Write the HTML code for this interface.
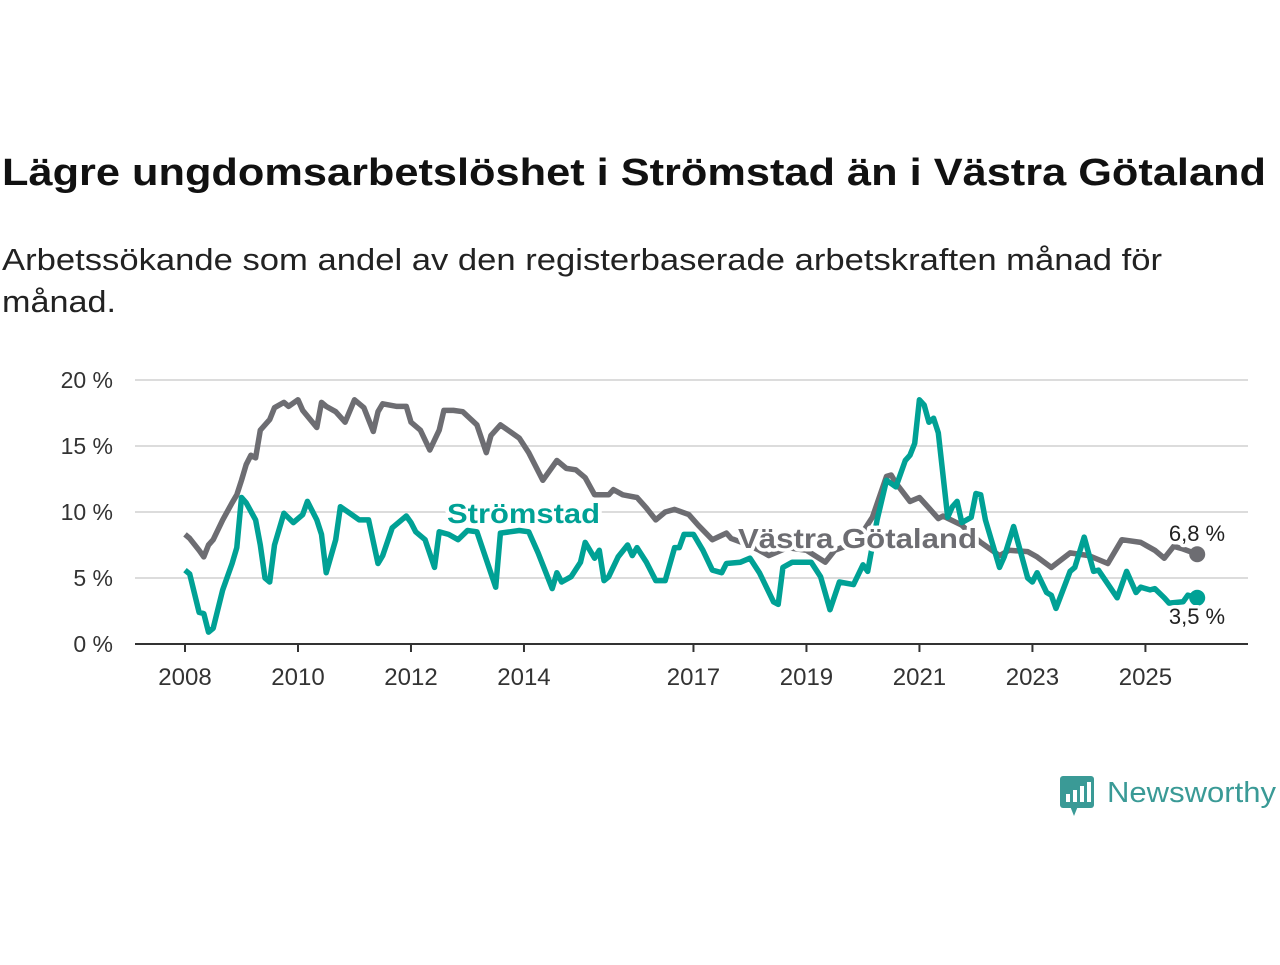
<!DOCTYPE html>
<html><head><meta charset="utf-8"><style>
body{margin:0;background:#fff;width:1280px;height:960px;overflow:hidden;font-family:"Liberation Sans","DejaVu Sans",sans-serif}
</style></head><body>
<svg width="1280" height="960" viewBox="0 0 1280 960">
<text x="2" y="185" font-size="38" font-weight="bold" fill="#111" textLength="1264" lengthAdjust="spacingAndGlyphs">Lägre ungdomsarbetslöshet i Strömstad än i Västra Götaland</text>
<text x="2" y="270" font-size="31" fill="#222"><tspan x="2" y="270" textLength="1160" lengthAdjust="spacingAndGlyphs">Arbetssökande som andel av den registerbaserade arbetskraften månad för</tspan><tspan x="2" y="312" textLength="114" lengthAdjust="spacingAndGlyphs">månad.</tspan></text>
<g id="grid"></g><g id="lines"></g><g id="labels"></g>
<g>
<rect x="1060" y="776" width="34" height="32" rx="3" fill="#3a9a96"/>
<polygon points="1070,806 1078,806 1074,816" fill="#3a9a96"/>
<rect x="1066" y="794" width="4" height="8" fill="#fff"/><rect x="1073" y="790" width="4" height="12" fill="#fff"/><rect x="1080" y="786" width="4" height="16" fill="#fff"/><rect x="1087" y="782" width="4" height="20" fill="#fff"/>
<text x="1107" y="802" font-size="29" fill="#3a9a96" textLength="169" lengthAdjust="spacingAndGlyphs">Newsworthy</text>
</g>
</svg>
<script>
const yTicks=[0,5,10,15,20];
const yTickLabels=["0 %","5 %","10 %","15 %","20 %"];
const xTickYears=[2008,2010,2012,2014,2017,2019,2021,2023,2025];
const gMonths=[0,1,3,4,5,6,8,10,11,12,13,14,15,16,18,19,21,22,24,25,28,29,30,32,34,36,38,40,41,42,45,47,48,50,52,54,55,57,59,62,64,65,67,69,71,73,76,79,81,83,85,87,90,91,93,96,98,100,102,104,107,109,112,115,116,119,122,124,128,132,136,138,141,144,146,149,150,151,154,156,158,160,161,165,167,169,173,175,179,181,184,188,192,196,199,203,206,208,210,212,215];
const gValues=[8.3,8.0,7.1,6.6,7.5,7.9,9.4,10.7,11.3,12.4,13.6,14.3,14.1,16.2,17.0,17.9,18.3,18.0,18.5,17.7,16.4,18.3,18.0,17.6,16.8,18.5,17.9,16.1,17.6,18.2,18.0,18.0,16.8,16.2,14.7,16.2,17.7,17.7,17.6,16.6,14.5,15.8,16.6,16.1,15.6,14.5,12.4,13.9,13.3,13.2,12.6,11.3,11.3,11.7,11.3,11.1,10.3,9.4,10.0,10.2,9.8,9.0,7.9,8.4,8.0,7.6,7.1,6.7,7.3,7.1,6.2,7.1,7.5,8.5,9.6,12.7,12.8,12.2,10.8,11.1,10.3,9.5,9.7,9.0,8.3,7.7,6.7,7.1,7.0,6.6,5.8,6.9,6.7,6.1,7.9,7.7,7.1,6.5,7.4,7.2,6.8];
const tMonths=[0,1,3,4,5,6,8,9,10,11,12,13,15,16,17,18,19,21,23,25,26,28,29,30,32,33,35,37,39,41,42,44,47,48,49,51,53,54,56,58,60,62,66,67,69,71,73,75,78,79,80,82,84,85,87,88,89,90,92,94,95,96,98,100,102,104,105,106,108,110,112,114,115,118,120,122,125,126,127,129,133,135,137,139,142,144,145,147,149,151,153,154,155,156,157,158,159,160,162,163,164,165,167,168,169,170,173,174,176,179,180,181,183,184,185,188,189,191,193,194,198,200,202,203,205,206,208,209,212,213,215];
const tValues=[5.6,5.3,2.4,2.3,0.9,1.2,4.1,5.1,6.1,7.3,11.1,10.7,9.4,7.5,5.0,4.7,7.5,9.9,9.2,9.8,10.8,9.4,8.3,5.4,7.9,10.4,9.9,9.4,9.4,6.1,6.7,8.8,9.7,9.2,8.5,7.9,5.8,8.5,8.3,7.9,8.6,8.5,4.3,8.4,8.5,8.6,8.5,6.9,4.2,5.4,4.7,5.1,6.2,7.7,6.5,7.1,4.8,5.1,6.6,7.5,6.7,7.3,6.2,4.8,4.8,7.3,7.3,8.3,8.3,7.1,5.6,5.4,6.1,6.2,6.5,5.4,3.2,3.0,5.8,6.2,6.2,5.1,2.6,4.7,4.5,6.0,5.5,9.4,12.4,11.9,13.9,14.3,15.2,18.5,18.1,16.8,17.1,16.0,9.6,10.4,10.8,9.2,9.6,11.4,11.3,9.4,5.8,6.6,8.9,5.0,4.7,5.4,3.9,3.7,2.7,5.5,5.8,8.1,5.5,5.6,3.5,5.5,3.9,4.3,4.1,4.2,3.5,3.1,3.2,3.7,3.5];
const NS="http://www.w3.org/2000/svg";
const xS=m=>185+m*4.708;
const yS=v=>644-v*13.2;
function mk(t,a,p){const e=document.createElementNS(NS,t);for(const k in a)e.setAttribute(k,a[k]);p.appendChild(e);return e;}
const grid=document.getElementById('grid'),lines=document.getElementById('lines'),labels=document.getElementById('labels');
yTicks.forEach((v,i)=>{
 if(v>0){const gl=mk('line',{x1:135,x2:1248,y1:yS(v),y2:yS(v),stroke:'#dcdcdc','stroke-width':2},grid);
 
 }
 const t=mk('text',{x:113,y:yS(v)+8,'text-anchor':'end','font-size':23,fill:'#333'},grid);t.textContent=yTickLabels[i];
 
 
});
const ax=mk('line',{x1:135,x2:1248,y1:644,y2:644,stroke:'#333','stroke-width':2},grid);


xTickYears.forEach(y=>{const x=xS((y-2008)*12);
 const tk=mk('line',{x1:x,x2:x,y1:644,y2:652,stroke:'#333','stroke-width':2},grid);
 
 
 const t=mk('text',{x:x,y:685,'text-anchor':'middle','font-size':24,fill:'#333'},grid);t.textContent=y;
 
 
});
function line(ms,vs,col,name){
 const d=ms.map((m,i)=>(i?'L':'M')+xS(m).toFixed(1)+','+yS(vs[i]).toFixed(1)).join('');
 const p=mk('path',{d:d,fill:'none',stroke:col,'stroke-width':5.5,'stroke-linejoin':'round'},lines);
 
 
 const n=ms.length-1;
 const c=mk('circle',{cx:xS(ms[n]),cy:yS(vs[n]),r:8,fill:col},lines);
 
 
}
line(gMonths,gValues,'#6d6d72','vastra-gotaland-line');
line(tMonths,tValues,'#00a195','stromstad-line');
function lab(x,y,txt,col,size,bold,name,anchor,len){
 const a={x:x,y:y,'font-size':size,'font-weight':bold?'bold':'normal',fill:col,stroke:'#fff','stroke-width':7,'paint-order':'stroke','stroke-linejoin':'round','text-anchor':anchor||'start'};
 if(len){a.textLength=len;a.lengthAdjust='spacingAndGlyphs';}
 const t=mk('text',a,labels);
 t.textContent=txt;
 
 
}
lab(447,523,'Strömstad','#00a195',28,true,'stromstad-label','start',153);
lab(738,548,'Västra Götaland','#6d6d72',28,true,'vastra-gotaland-label','start',239);
lab(1197,541,'6,8 %','#222',22,false,'vastra-gotaland-end-value','middle');
lab(1197,624,'3,5 %','#222',22,false,'stromstad-end-value','middle');
</script>
</body></html>
